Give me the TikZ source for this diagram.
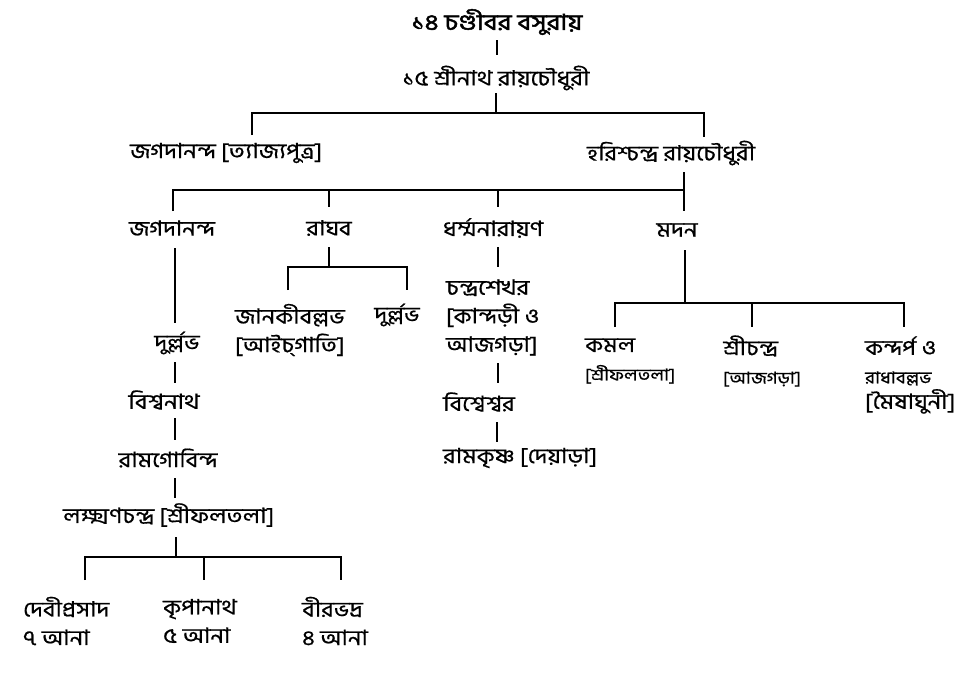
\documentclass[tikz,border=0pt]{standalone}
\usepackage{fontspec}
\newfontfamily\bn[Script=Bengali,FakeStretch=1.15,FakeBold=0.6]{Hind Siliguri}
\newfontfamily\bnt[Script=Bengali,FakeStretch=1.2,FakeBold=2.2]{Hind Siliguri}
\tikzset{
  lbl/.style={font=\bn\fontsize{21}{28.5}\selectfont, inner sep=0pt, align=left},
  lblc/.style={lbl, align=center},
  edge/.style={draw=black, line width=1.3pt},
}
\newcommand{\smalltxt}[1]{{\fontsize{16.5}{28}\selectfont #1}}
\begin{document}
\begin{tikzpicture}[x=1pt,y=-1pt]
\useasboundingbox[fill=white] (0,0) rectangle (975,681);
% nodes
\node[lblc, font=\bnt\fontsize{22}{28}\selectfont] (t1) at (497,22) {১৪ চণ্ডীবর বসুরায়};
\node[lblc] (t2) at (496,78) {১৫ শ্রীনাথ রায়চৌধুরী};
\node[lbl, anchor=west] (jt) at (130,153) {জগদানন্দ [ত্যাজ্যপুত্র]};
\node[lbl, anchor=west] (hr) at (587,153) {হরিশ্চন্দ্র রায়চৌধুরী};
\node[lblc] (j2) at (172,228) {জগদানন্দ};
\node[lblc] (rg) at (329,228) {রাঘব};
\node[lblc] (dh) at (493,228) {ধর্ম্মনারায়ণ};
\node[lblc] (md) at (677,230) {মদন};
\node[lblc] (dl1) at (177,343) {দুর্ল্লভ};
\node[lblc] (bn) at (164,400) {বিশ্বনাথ};
\node[lblc] (rgb) at (168,458) {রামগোবিন্দ};
\node[lbl, anchor=west] (lk) at (63,515) {লক্ষ্মণচন্দ্র [শ্রীফলতলা]};
\node[lbl, anchor=west] (dp) at (23,621) {দেবীপ্রসাদ\\৭ আনা};
\node[lbl, anchor=west] (kp) at (163,621) {কৃপানাথ\\৫ আনা};
\node[lbl, anchor=west] (bb) at (302,621) {বীরভদ্র\\৪ আনা};
\node[lbl, anchor=west] (jk) at (235,330) {জানকীবল্লভ\\{[}আইচ্‌গাতি]};
\node[lblc] (dl2) at (397,315) {দুর্ল্লভ};
\node[lbl, anchor=west] (cs) at (446,317.5) {চন্দ্রশেখর\\{[}কান্দড়ী ও\\আজগড়া]};
\node[lbl, anchor=west] (bs) at (443,402) {বিশ্বেশ্বর};
\node[lbl, anchor=west] (rk) at (443,458) {রামকৃষ্ণ [দেয়াড়া]};
\node[lbl, anchor=west] (km) at (585,361) {কমল\\\smalltxt{[শ্রীফলতলা]}};
\node[lbl, anchor=west] (sc) at (723,361) {শ্রীচন্দ্র\\\smalltxt{[আজগড়া]}};
\node[lbl, anchor=west] (kd) at (865,375) {কন্দর্প ও\\\smalltxt{রাধাবল্লভ}\\[-3pt]{[}মৈষাঘুনী]};
% bus coordinates
\coordinate (a1) at (497,40); \coordinate (a2) at (497,55);
\coordinate (b0) at (496,93); \coordinate (b1) at (496,113);
\coordinate (bl) at (252,113); \coordinate (br) at (704,113);
\coordinate (blj) at (252,135); \coordinate (brh) at (704,137);
\coordinate (c0) at (684,172); \coordinate (c1) at (684,190);
\coordinate (cl) at (173,190);
\coordinate (cj) at (173,211); \coordinate (cr0) at (329,190); \coordinate (cr) at (329,207);
\coordinate (cd0) at (498,190); \coordinate (cd) at (498,207); \coordinate (cm) at (684,211);
\coordinate (j2a) at (175,248); \coordinate (j2b) at (175,323);
\coordinate (d1a) at (175,362); \coordinate (d1b) at (175,383);
\coordinate (bna) at (175,418); \coordinate (bnb) at (175,440);
\coordinate (rga) at (175,478); \coordinate (rgb2) at (175,498);
\coordinate (lka) at (176,537); \coordinate (lkb) at (176,557);
\coordinate (lkl) at (85,557); \coordinate (lkr) at (341,557);
\coordinate (lk1) at (85,580); \coordinate (lk2m) at (204,557); \coordinate (lk2) at (204,580); \coordinate (lk3) at (341,580);
\coordinate (rga1) at (329,247); \coordinate (rgb1) at (329,267);
\coordinate (rgl) at (288,267); \coordinate (rgr) at (407,267);
\coordinate (rgl2) at (288,290); \coordinate (rgr2) at (407,290);
\coordinate (dha) at (498,247); \coordinate (dhb) at (498,267);
\coordinate (csa) at (498,363); \coordinate (csb) at (498,383);
\coordinate (bsa) at (497,422); \coordinate (bsb) at (497,442);
\coordinate (mda) at (685,250); \coordinate (mdb) at (685,303);
\coordinate (mdl) at (615,303); \coordinate (mdr) at (904,303);
\coordinate (md1) at (615,327); \coordinate (md2m) at (752,303); \coordinate (md2) at (752,327); \coordinate (md3) at (904,327);
% connectors
\draw[edge] (a1) -- (a2);
\draw[edge] (b0) -- (b1);
\draw[edge] (blj) -- (bl) -- (br) -- (brh);
\draw[edge] (c0) -- (c1);
\draw[edge] (cj) -- (cl) -- (c1) -- (cm);
\draw[edge] (cr0) -- (cr);
\draw[edge] (cd0) -- (cd);
\draw[edge] (j2a) -- (j2b);
\draw[edge] (d1a) -- (d1b);
\draw[edge] (bna) -- (bnb);
\draw[edge] (rga) -- (rgb2);
\draw[edge] (lka) -- (lkb);
\draw[edge] (lk1) -- (lkl) -- (lkr) -- (lk3);
\draw[edge] (lk2m) -- (lk2);
\draw[edge] (rga1) -- (rgb1);
\draw[edge] (rgl2) -- (rgl) -- (rgr) -- (rgr2);
\draw[edge] (dha) -- (dhb);
\draw[edge] (csa) -- (csb);
\draw[edge] (bsa) -- (bsb);
\draw[edge] (mda) -- (mdb);
\draw[edge] (md1) -- (mdl) -- (mdr) -- (md3);
\draw[edge] (md2m) -- (md2);
\end{tikzpicture}
\end{document}
